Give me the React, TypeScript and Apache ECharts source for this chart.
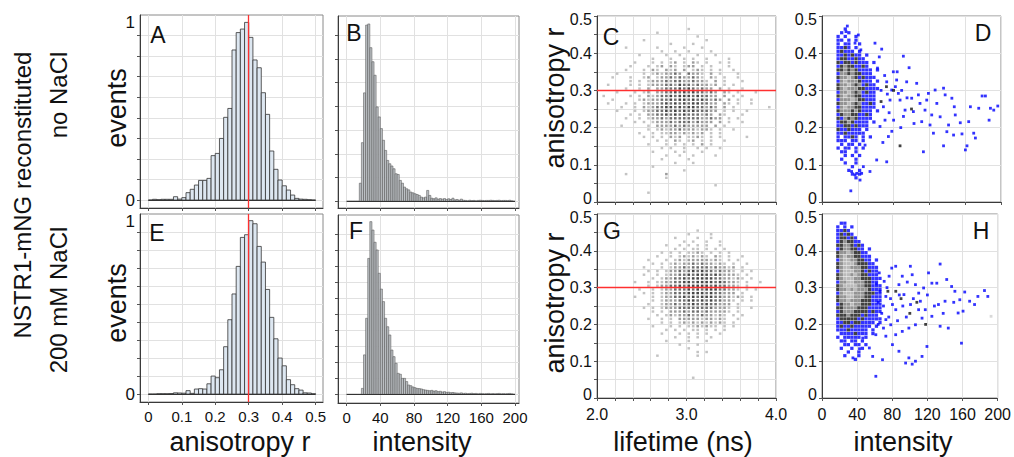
import React, { useEffect, useRef } from 'react';
import * as echarts from 'echarts';

const FONT = "'Liberation Sans', Arial, Helvetica, sans-serif";

// ---------- histogram data (normalized events, frame top = 1) ----------
const ANISO_BIN_START = 0;
const ANISO_BIN_WIDTH = 0.0125;
const A_EVENTS = [0, 0.004, 0.002, 0.004, 0.004, 0.004, 0.018, 0.005, 0.013, 0.040, 0.058, 0.081, 0.106, 0.106, 0.117, 0.240, 0.252, 0.333, 0.447, 0.495, 0.811, 0.905, 0.924, 0.960, 0.879, 0.757, 0.715, 0.580, 0.463, 0.265, 0.166, 0.108, 0.077, 0.054, 0.027, 0.009, 0.005, 0.004, 0.002, 0];
const E_EVENTS = [0, 0, 0.002, 0.002, 0.002, 0.003, 0.007, 0.006, 0.005, 0.019, 0.004, 0.028, 0.030, 0.028, 0.057, 0.100, 0.091, 0.135, 0.263, 0.413, 0.556, 0.709, 0.870, 0.885, 0.963, 0.946, 0.820, 0.733, 0.581, 0.426, 0.307, 0.200, 0.157, 0.080, 0.052, 0.030, 0.022, 0.007, 0.006, 0.002];

const INT_BIN_START = 0;
const INT_BIN_WIDTH = 2.5;
const B_EVENTS = [0, 0, 0, 0, 0, 0,
  0.097, 0.316, 0.585, 0.951, 0.957, 0.829, 0.753, 0.68, 0.509, 0.455,
  0.392, 0.329, 0.274, 0.22, 0.202, 0.19, 0.175, 0.148, 0.144, 0.112,
  0.097, 0.076, 0.067, 0.061, 0.049, 0.045, 0.04, 0.036, 0.031, 0.022,
  0.018, 0.022, 0.058, 0.031, 0.016, 0.013, 0.018, 0.011, 0.014, 0.011,
  0.014, 0.009, 0.013, 0.009, 0.016, 0.007, 0.009, 0.005, 0.011, 0.005,
  0.004, 0.002, 0.005, 0.003, 0.004, 0.002, 0.004, 0.005, 0.004, 0.003, 0.004, 0.004,
  0.005, 0.004, 0.003, 0.004, 0.005, 0.003, 0.004, 0.004, 0.003, 0.005, 0.002, 0];
const F_EVENTS = [0, 0, 0, 0, 0, 0, 0,
  0.033, 0.22, 0.424, 0.758, 0.963, 0.916, 0.848, 0.805, 0.675, 0.587,
  0.517, 0.424, 0.377, 0.331, 0.247, 0.21, 0.173, 0.117, 0.112, 0.089,
  0.089, 0.071, 0.052, 0.048, 0.041, 0.037, 0.033, 0.032, 0.03, 0.026,
  0.024, 0.022, 0.02, 0.022, 0.018, 0.02, 0.015, 0.017, 0.013, 0.015,
  0.011, 0.012, 0.009, 0.01, 0.008,
  0.007, 0.006, 0.008, 0.005, 0.006, 0.004, 0.005, 0.006, 0.004, 0.005, 0.003, 0.005, 0.004, 0.003,
  0.004, 0.005, 0.003, 0.004, 0.003, 0.004, 0.005, 0.003, 0.004, 0.003, 0.004, 0.005, 0.003, 0.001];

// ---------- ticks / grid values ----------
const ANISO_TICKS = [0, 0.1, 0.2, 0.3, 0.4, 0.5];
const INT_TICKS = [0, 40, 80, 120, 160, 200];
const A_GRID_Y = [0, 0.111, 0.222, 0.333, 0.444, 0.556, 0.667, 0.778, 0.889];
const E_GRID_Y = [0, 0.1, 0.2, 0.3, 0.4, 0.5, 0.6, 0.7, 0.8, 0.9];
const B_GRID_Y = [0, 0.128, 0.256, 0.384, 0.512, 0.64, 0.768, 0.896];
const F_GRID_Y = [0, 0.089, 0.178, 0.267, 0.356, 0.446, 0.535, 0.624, 0.713, 0.802, 0.892];
const HIST_Y_LABELS = [0, 1];
const R_GRID_FINE = [0, 0.05, 0.1, 0.15, 0.2, 0.25, 0.3, 0.35, 0.4, 0.45, 0.5];
const R_GRID = [0, 0.1, 0.2, 0.3, 0.4, 0.5];
const R_LABELS = [0, 0.1, 0.2, 0.3, 0.4, 0.5];
const LT_GRID = [2, 2.2, 2.4, 2.6, 2.8, 3, 3.2, 3.4, 3.6, 3.8, 4];
const LT_LABELS = [2, 3, 4];
const R_REF = 0.3;

// ---------- scatter density maps ----------
// C / G: columns = lifetime cells of 0.05 ns from 2.0; rows = anisotropy cells of 0.01 from 0.5 downward
// level: 1 light grey .. 4 black
const LT_CELL0 = 2.0, LT_CELL = 0.05, R_CELL0 = 0.5, R_CELL = 0.01;
const C_CLOUD = [
  "", "", "",
  "....................1...................",
  ".............1..........................",
  "......................1.................",
  "..........1.............1...............",
  "................1....1..................",
  "......1......1.....1...1................",
  "..............1..1..1....1..............",
  ".........1.....1..1...1...1.............",
  "............1...1..1.1..1....1..........",
  "........1...1.1.12.1.21.1..1.1..........",
  ".......1...1.12.21.122.1.1...1..........",
  "......1...1.21.212.2.121.1.1..1.........",
  "....1.....1.1212232.3221.2.1...1........",
  "...1...1..12.12232322321.21.1..1........",
  ".......1.1.12223233223221.2.1...1.......",
  "..1....1.1.1222332433232212.1.1.........",
  "......1..1.2.2233343432322.2.1..1.......",
  "....1...1.12.22334343433232.21.1...1....",
  ".1.....1.1.2123343444343322.2.1.1.......",
  "...1.....1212233434434343232.2.1..1.....",
  "..1...1.1.12223434343443322.21.1..1.....",
  ".....1..1.21233443434433232.2.1.......1.",
  "....1...1.12233434343433322.1.1..1......",
  ".......1.1.223343434333232.21...1.......",
  "......1..1.12232333333322322.1.1........",
  "........1.1.12223233323222.2.1..1.......",
  ".....1.....1.222232322222.2.1...........",
  "...........1.1212232221221.1..1.........",
  ".........1..1.1122121212.1.1............",
  "..........1.1.1.212.1121.1.1.....1......",
  ".............1.1.21.12.1.1..1...........",
  "...........1...1.1.1.1.2.1..............",
  "..............1.1..1..1.1..1............",
  "............1....1.1...1................",
  "...............1..1..1....1.............",
  "..............1.....1...................",
  ".................1...1..................",
  "............1...........................",
  "...................1....................",
  "......1........2........................",
  "...............1........................",
  "",
  "..........................1.............",
  "",
  "...........1............................",
];
const G_CLOUD = [
  "", "", "", "",
  "......................1.................",
  "....................1....1..............",
  ".................1....1..1..............",
  "...................1.1..1..1............",
  "...............1..1.1.1.1..1............",
  ".................1.1.11.1.1.1...........",
  "..............1.1.1.1121.1.1.1..........",
  ".............1..1.1212121.21.1..1.......",
  "...........1...1.12122222121.1.1........",
  "............1.1.1212232322121.1..1......",
  "..........1...1.122323333232212.1.......",
  "...........1.1.1223234343323221.1.1.....",
  "..........1..1.12233434443432221.1......",
  "............1.1223343444443322121.1.....",
  "........1..1.1122334434444343221.1..1...",
  "...........1.1223343444443433221.1......",
  ".........1..1.122333434344433221.1.1....",
  "..........1.1.12233344443433222.1.......",
  "........1...1.1223343434443322121.1.....",
  "............1.12223344343433221.1.1.....",
  "...........1..1223233433433222.1........",
  "..........1.1.1222333333332221.1..1.....",
  "............1.1.22232332322221.1........",
  ".............1.12122322322121.1.1.......",
  "...........1..1.1.22222122121..1........",
  "..............1.1.12121212121.1.........",
  "............1...1.1.1121211.1.1.........",
  "...............1.1.1.11.1.1.1...........",
  "..............1...1.1.1.1..1............",
  ".................1..1.1..1..............",
  "...............1....1...1...............",
  "..................1...1.................",
  "....................1...................",
  "......................1.1...............",
  ".............1........1.................",
  "", "", "", "", "",
  ".....................1..................",
];

// D / H cores: columns = intensity cells of 4 from 16; rows = anisotropy cells of 0.01 from 0.5
// b blue, k black, g grey, l light grey
const I_CELL0 = 16, I_CELL = 4;
const D_CORE = [
  "", "", "",
  "..b.........",
  ".b.b........",
  "b.b..b......",
  "bb.b.b......",
  "b.bb..b.....",
  "bbkb.b......",
  "bkbbb.b.....",
  "bbkbkbb.b...",
  "bkkbbkbb....",
  "kbkkbkbbb.b.",
  "bkgkkbbkb...",
  "kkgkgkbbbb.b",
  "bggkgkkbbb..",
  "kgglgkbkbbb.",
  "bglgggkbbb.b",
  "kgglgkgbkbb.",
  "kglgggkkbbbb",
  "bgglgkgbkbb.",
  "kglggkkbbbb.",
  "bggglgkkbbb.",
  "kgglgkgbbkb.",
  "bglggkkbbbb.",
  "kgggkgkbbb.b",
  "bkggkkbbkb..",
  "kbgkgkbbbb..",
  "bkkgkbbbb.b.",
  "bbkkbkbbb...",
  "kbbkbbb.b...",
  "bbkbbbbb....",
  "b.bbkb.b.b..",
  "bbb.bb.b....",
  ".b.bb.b.....",
  "b.bb.b.b....",
  ".bb..b......",
  "..b.b.b.....",
  ".b...b......",
  "..b..b......",
  "....b.......",
  "...b..b.....",
  "....b.b.....",
  ".....b......",
];
const H_CORE = [
  "", "",
  ".bb..........",
  "b.b.b........",
  "bbkb.........",
  "bkbkb........",
  "bkkbkb.......",
  "bkgkkbb......",
  "kkggkbkb.....",
  "bkggkkbb.b...",
  "kgglgkkbb....",
  "kglggkkbbb...",
  "bgllggkkbb.b.",
  "kglllgkkkbb..",
  "kgllgggkkbbb.",
  "bglllggkbkbb.",
  "kgllglgkkbbb.",
  "kglllggkkkbbb",
  "bggllgggkkbb.",
  "kgllllggkkbbb",
  "kgglglgggkbbb",
  "bglllgggkkkbb",
  "kggllgggkkbbb",
  "kgglgggkkkbbb",
  "bkgglggkkkbbb",
  "kkggggkkkbbbb",
  "bkgggkkkkbkbb",
  "kkkgkkkbkbbb.",
  "bkkkkkbkbbbbb",
  "bbkkbkkbbbb.b",
  "bkbbkbbbbb.b.",
  "bbbkbbbbb.b..",
  ".bbbbkbbb.b..",
  "b.bbbbb.b....",
  ".bb.bb.b.....",
  "..bb.bb.b....",
  ".b..b..b.....",
  "...b..b......",
  "..b...b......",
  ".....b.......",
];

// sparse points [intensity, anisotropy]
const D_TAIL_BLUE = [
  [79.7, .350], [83.4, .328], [85.3, .292], [87.2, .274], [90.9, .392], [92.8, .247], [94.6, .323], [97.3, .361],
  [100.2, .279], [102.1, .243], [102.8, .211], [105.8, .319], [107.7, .288], [109.5, .265], [111.4, .216], [113.3, .135],
  [115.1, .247], [117, .274], [118.9, .292], [120.7, .207], [122.6, .234], [124.5, .185], [126.4, .301], [128.3, .265],
  [132, .229], [135.8, .306], [137.6, .288], [139.5, .189], [141.4, .207], [145.1, .279], [147.8, .256], [148.9, .234],
  [154.5, .213], [156.4, .183], [160.2, .140], [162, .151], [163.9, .216], [169.5, .185], [171.4, .172], [175.1, .252],
  [178.9, .285], [182.6, .285], [188.2, .252], [191.9, .247], [196.4, .258], [186.7, .220], [135.8, .151], [147, .180],
  [165.8, .256], [66.7, .411], [68.6, .256], [70.4, .220], [72.3, .323], [74.2, .176], [76, .274], [77.9, .301],
  [72.3, .108], [61.1, .113], [64.8, .203], [62, .36], [66, .30], [70, .34], [75, .24], [68, .16], [78, .19], [80, .22],
  [82, .31], [88, .20], [91, .23], [95, .28], [53.6, .082], [46.2, .095], [42.5, .059], [44.3, .077], [38.8, .077],
  [36.9, .073], [32.2, .030], [33.1, .082], [48.1, .153], [26.8, .458], [28.3, .473], [40.6, .449], [36.9, .427],
  [59.2, .427], [43.4, .409], [64, .39], [84, .35], [73, .29], [89, .30],
];
const D_TAIL_BLACK = [[87.2, .151], [66, .27], [80, .30], [100, .25], [72, .31]];
const H_TAIL_BLUE = [
  [79.4, .353], [83.9, .358], [100.6, .358], [102.7, .335], [97.1, .315], [91.4, .331], [87.6, .308], [106.4, .308],
  [110.1, .285], [115.7, .299], [121.3, .340], [125.1, .312], [130.7, .312], [134.5, .364], [142, .322], [147.6, .303],
  [151.3, .290], [156.9, .267], [162.5, .288], [168.1, .263], [173.7, .254], [177.5, .276], [185, .292], [188.8, .276],
  [160.6, .236], [155, .231], [143.8, .190], [134.5, .195], [125.1, .222], [117.6, .240], [113.9, .217], [106.4, .199],
  [98.9, .190], [91.4, .181], [83.9, .172], [78.3, .199], [72.7, .213], [80.2, .145], [87.6, .127], [98.9, .109],
  [106.4, .1], [113.9, .113], [119.5, .14], [102.7, .092], [95.2, .095], [158.8, .149], [132.6, .254], [140.1, .263],
  [112, .263], [100.8, .254], [93.3, .281], [80.2, .254], [72.7, .276], [70.8, .317], [76.4, .331], [65.2, .340],
  [61.3, .059], [68.9, .104], [57.7, .113], [53.9, .136], [42.7, .134], [35.2, .109], [46.4, .163], [61.3, .172],
  [72.7, .168], [66, .29], [70, .25], [74, .30], [78, .27], [84, .24], [88, .28], [92, .25], [96, .22], [68, .23],
  [64, .26], [62, .31], [76, .22], [86, .21], [104, .27], [110, .24], [120, .28], [128, .25], [138, .23], [150, .26],
  [64, .20], [70, .19],
];
const H_TAIL_BLACK = [[90, .27], [100, .23], [84, .29], [108, .26], [118, .2], [75, .29]];
const H_TAIL_GREY = [[192.5, .222]];

// ---------- helpers ----------
function histData(values: number[], start: number, width: number) {
  return values.map((v, i) => [start + i * width, start + (i + 1) * width, v]);
}
function cellPoints(rows: string[], x0: number, dx: number, y0: number, dy: number) {
  const out: Record<string, number[][]> = {};
  rows.forEach((row, j) => {
    for (let i = 0; i < row.length; i++) {
      const ch = row[i];
      if (ch === '.' || ch === ' ') continue;
      (out[ch] = out[ch] || []).push([x0 + (i + 0.5) * dx, y0 - (j + 0.5) * dy]);
    }
  });
  return out;
}

const GRIDS = [
  { left: 140, top: 15, width: 183, height: 193 },
  { left: 338, top: 16, width: 181, height: 192 },
  { left: 597, top: 16, width: 179, height: 186 },
  { left: 822, top: 16, width: 179, height: 186 },
  { left: 140, top: 214, width: 183, height: 188 },
  { left: 338, top: 215, width: 181, height: 188 },
  { left: 597, top: 214, width: 179, height: 184 },
  { left: 822, top: 214, width: 178, height: 184 },
];

const fmt1 = (v: number) => (v === 0 ? '0' : v.toFixed(1));
const fmt0 = (v: number) => String(Math.round(v));
const fmtHist = (v: number) => (v === 0 ? '0' : '{one|1}');
const fmtR = (v: number) => (v === 0 ? '{lo|0}' : v >= 0.5 ? '{hi|0.5}' : v.toFixed(1));

function axis(gridIndex: number, min: number, max: number, ticks: number[], labels?: number[], formatter?: any, fontSize = 16, margin = 6, extra: any = {}) {
  return {
    type: 'value', gridIndex, min, max,
    axisLine: { show: true, onZero: false, lineStyle: { color: '#3a3a3a', width: 1 } },
    axisTick: { show: true, customValues: ticks, length: 3, inside: false, lineStyle: { color: '#555' } },
    splitLine: { show: true, lineStyle: { color: '#e1e1e1', width: 1 } },
    axisLabel: labels
      ? { show: true, customValues: labels, formatter, fontSize, margin, color: '#111', fontFamily: FONT, ...extra }
      : { show: false },
  };
}

const histLabelRich = { rich: { one: { fontSize: 17, fontFamily: FONT, color: '#111', padding: [14, 0, 0, 0] } } };
const rLabelRich = {
  rich: {
    lo: { fontSize: 16, fontFamily: FONT, color: '#111', padding: [0, 0, 7, 0] },
    hi: { fontSize: 16, fontFamily: FONT, color: '#111', padding: [7, 0, 0, 0] },
  },
};

function histSeries(idx: number, values: number[], start: number, width: number, fill: string, stroke: string, lw: number, refX?: number, baseEnd?: number) {
  const s: any = {
    type: 'custom', xAxisIndex: idx, yAxisIndex: idx, z: 3,
    data: histData(values, start, width),
    encode: { x: [0, 1], y: 2 },
    renderItem: (params: any, api: any) => {
      const p0 = api.coord([api.value(0), 0]);
      const p1 = api.coord([api.value(1), api.value(2)]);
      return {
        type: 'rect',
        shape: { x: p0[0], y: p1[1], width: p1[0] - p0[0], height: Math.max(0, p0[1] - p1[1]) },
        style: { fill, stroke, lineWidth: lw },
      };
    },
    markLine: {
      silent: true, symbol: ['none', 'none'], label: { show: false }, animation: false,
      data: [
        [{ coord: [start, 0], lineStyle: { color: '#333', width: 1, type: 'solid' } }, { coord: [baseEnd, 0] }],
        ...(refX !== undefined ? [{ xAxis: refX, lineStyle: { color: '#ff3030', width: 1.3, type: 'solid' } }] : []),
      ],
    },
  };
  return s;
}

const CLOUD_COLORS: Record<string, string> = { '1': '#b4b4b4', '2': '#858585', '3': '#4a4a4a', '4': '#1a1a1a' };
const CORE_COLORS: Record<string, string> = { b: '#0000ff', k: '#111111', g: '#787878', l: '#a9a9a9' };

function cloudSeries(idx: number, rows: string[], withRef: boolean) {
  const pts = cellPoints(rows, LT_CELL0, LT_CELL, R_CELL0, R_CELL);
  const out: any[] = [];
  ['1', '2', '3', '4'].forEach((lv, k) => {
    out.push({
      type: 'scatter', xAxisIndex: idx, yAxisIndex: idx, symbol: 'rect', symbolSize: [2.6, 2.4],
      itemStyle: { color: CLOUD_COLORS[lv] }, data: pts[lv] || [], z: 3,
      ...(withRef && k === 3 ? {
        markLine: {
          silent: true, symbol: ['none', 'none'], label: { show: false },
          lineStyle: { color: '#ff3030', width: 1.3, type: 'solid' }, data: [{ yAxis: R_REF }],
        },
      } : {}),
    });
  });
  return out;
}

function coreSeries(idx: number, rows: string[], blue: number[][], black: number[][], grey: number[][]) {
  const pts = cellPoints(rows, I_CELL0, I_CELL, R_CELL0, R_CELL);
  const out: any[] = [];
  ['b', 'k', 'g', 'l'].forEach((lv) => {
    out.push({
      type: 'scatter', xAxisIndex: idx, yAxisIndex: idx, symbol: 'rect', symbolSize: [3.3, 3.2],
      itemStyle: { color: CORE_COLORS[lv] }, data: pts[lv] || [], z: 3,
    });
  });
  out.push({ type: 'scatter', xAxisIndex: idx, yAxisIndex: idx, symbol: 'rect', symbolSize: 2.8, itemStyle: { color: '#0000ff' }, data: blue, z: 3 });
  out.push({ type: 'scatter', xAxisIndex: idx, yAxisIndex: idx, symbol: 'rect', symbolSize: 2.8, itemStyle: { color: '#111' }, data: black, z: 3 });
  out.push({ type: 'scatter', xAxisIndex: idx, yAxisIndex: idx, symbol: 'rect', symbolSize: 2.8, itemStyle: { color: '#cfcfcf' }, data: grey, z: 3 });
  return out;
}

function txt(text: string, x: number, y: number, fontSize: number, rotate = false) {
  return {
    type: 'text', x, y, rotation: rotate ? Math.PI / 2 : 0, z: 10,
    style: { text, fontSize, fontFamily: FONT, fill: '#111', align: 'center', verticalAlign: 'middle' },
  };
}

export default function App() {
  const ref = useRef<HTMLDivElement>(null);
  useEffect(() => {
    if (!ref.current) return;
    const chart = echarts.init(ref.current, undefined, { renderer: 'svg' });
    const option: any = {
      animation: false,
      backgroundColor: '#ffffff',
      textStyle: { fontFamily: FONT },
      grid: GRIDS.map((g) => ({ ...g, show: true, borderColor: '#8a8a8a', borderWidth: 1, backgroundColor: 'transparent', containLabel: false })),
      xAxis: [
        axis(0, -0.025, 0.522, ANISO_TICKS),
        axis(1, -10.3, 204.7, INT_TICKS),
        axis(2, 2, 4, LT_GRID),
        axis(3, 0, 200, INT_TICKS),
        axis(4, -0.025, 0.522, ANISO_TICKS, ANISO_TICKS, fmt1, 15, 7),
        axis(5, -10.3, 204.7, INT_TICKS, INT_TICKS, fmt0, 15, 7),
        axis(6, 2, 4, LT_GRID, LT_LABELS, (v: number) => v.toFixed(1), 16, 8),
        axis(7, 0, 200, INT_TICKS, INT_TICKS, fmt0, 16, 8),
      ],
      yAxis: [
        axis(0, -0.043, 1, A_GRID_Y, HIST_Y_LABELS, fmtHist, 17, 5, histLabelRich),
        axis(1, -0.037, 1, B_GRID_Y),
        axis(2, 0, 0.5, R_GRID_FINE, R_LABELS, fmtR, 16, 5, rLabelRich),
        axis(3, 0, 0.5, R_GRID, R_LABELS, fmtR, 16, 5, rLabelRich),
        axis(4, -0.044, 1, E_GRID_Y, HIST_Y_LABELS, fmtHist, 17, 5, histLabelRich),
        axis(5, -0.0485, 1, F_GRID_Y),
        axis(6, 0, 0.5, R_GRID_FINE, R_LABELS, fmtR, 16, 5, rLabelRich),
        axis(7, 0, 0.5, R_GRID, R_LABELS, fmtR, 16, 5, rLabelRich),
      ],
      series: [
        histSeries(0, A_EVENTS, ANISO_BIN_START, ANISO_BIN_WIDTH, '#dde7f1', '#333', 0.8, R_REF, 0.5),
        histSeries(1, B_EVENTS, INT_BIN_START, INT_BIN_WIDTH, '#bcc0c4', '#4a4a4a', 0.5, undefined, 200),
        ...cloudSeries(2, C_CLOUD, true),
        ...coreSeries(3, D_CORE, D_TAIL_BLUE, D_TAIL_BLACK, []),
        histSeries(4, E_EVENTS, ANISO_BIN_START, ANISO_BIN_WIDTH, '#dde7f1', '#333', 0.8, R_REF, 0.5),
        histSeries(5, F_EVENTS, INT_BIN_START, INT_BIN_WIDTH, '#bcc0c4', '#4a4a4a', 0.5, undefined, 200),
        ...cloudSeries(6, G_CLOUD, true),
        ...coreSeries(7, H_CORE, H_TAIL_BLUE, H_TAIL_BLACK, H_TAIL_GREY),
      ],
      graphic: [
        txt('NSTR1-mNG reconstituted', 22, 195, 24, true),
        txt('no NaCl', 58, 95, 24, true),
        txt('200 mM NaCl', 58, 300, 24, true),
        txt('events', 117, 108, 27, true),
        txt('events', 117, 303, 27, true),
        txt('anisotropy r', 555, 98, 27, true),
        txt('anisotropy r', 555, 303, 27, true),
        txt('anisotropy r', 240, 442, 27),
        txt('intensity', 422, 442, 27),
        txt('lifetime (ns)', 683, 442, 27),
        txt('intensity', 903, 442, 27),
        txt('A', 158, 35, 23),
        txt('B', 354, 33, 23),
        txt('C', 611, 37, 23),
        txt('D', 983, 33, 23),
        txt('E', 157, 233, 23),
        txt('F', 356, 231, 23),
        txt('G', 612, 231, 23),
        txt('H', 981, 231, 23),
      ],
    };
    chart.setOption(option);
    return () => chart.dispose();
  }, []);
  return <div ref={ref} style={{ position: 'absolute', left: 0, top: 0, width: 1014, height: 457 }} />;
}
